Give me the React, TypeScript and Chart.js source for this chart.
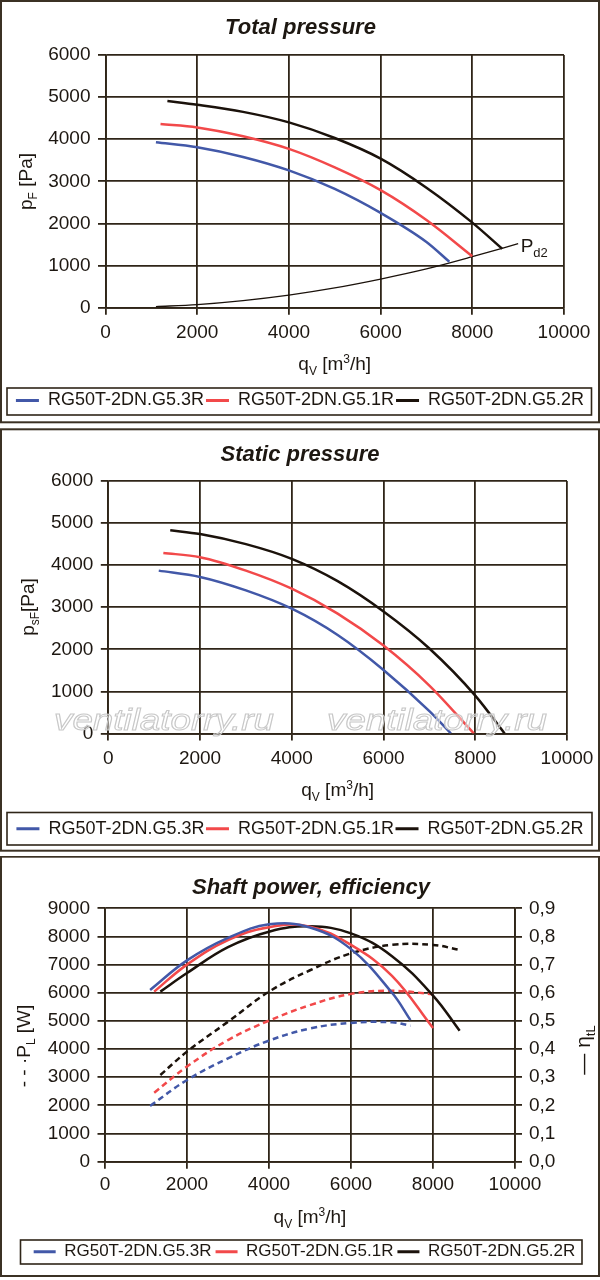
import React, { useEffect, useRef } from "react";
import { Chart, registerables, ChartConfiguration } from "chart.js";

Chart.register(...registerables);

const FONT = "'Liberation Sans', Arial, Helvetica, sans-serif";
const INK = "#1d1711";
const GRID = "#2f2518";
const FRAME = "#3b3124";
const BLUE = "#4258a8";
const RED = "#f2494a";
const BLACK = "#1b120b";

const seriesNames = ["RG50T-2DN.G5.3R", "RG50T-2DN.G5.1R", "RG50T-2DN.G5.2R"];

// Total pressure [Pa]
const qTot53 = [1100, 2000, 3000, 4000, 5000, 6000, 7000, 7500];
const pTot53 = [3930, 3810, 3580, 3260, 2820, 2250, 1560, 1090];
const qTot51 = [1200, 2000, 3000, 4000, 5000, 6000, 7000, 8000];
const pTot51 = [4360, 4280, 4070, 3770, 3330, 2790, 2080, 1220];
const qTot52 = [1350, 2000, 3000, 4000, 5000, 6000, 7000, 8000, 8650];
const pTot52 = [4910, 4820, 4650, 4400, 4030, 3540, 2850, 2020, 1400];
const qPd2 = [1100, 2000, 3000, 4000, 5000, 6000, 7000, 8000, 9000];
const pPd2 = [25, 75, 170, 300, 470, 680, 920, 1210, 1520];

// Static pressure [Pa]
const qSt53 = [1100, 2000, 3000, 4000, 5000, 6000, 7000, 7470];
const pSt53 = [3870, 3720, 3400, 2965, 2340, 1510, 530, 0];
const qSt51 = [1200, 2000, 3000, 4000, 5000, 6000, 7000, 7970];
const pSt51 = [4290, 4190, 3870, 3440, 2850, 2090, 1140, 0];
const qSt52 = [1350, 2000, 3000, 4000, 5000, 6000, 7000, 8000, 8640];
const pSt52 = [4830, 4740, 4500, 4150, 3620, 2900, 2020, 900, 0];

// Shaft power [W] and efficiency
const qSh53 = [1100, 2000, 3000, 4000, 5000, 6000, 7000, 7450];
const power53 = [1980, 2900, 3670, 4300, 4730, 4930, 4950, 4830];
const eff53 = [0.61, 0.715, 0.795, 0.843, 0.832, 0.755, 0.6, 0.503];
const qSh51 = [1200, 2000, 3000, 4000, 5000, 6000, 7000, 8000];
const power51 = [2450, 3380, 4320, 5010, 5560, 5960, 6070, 5950];
const eff51 = [0.604, 0.7, 0.787, 0.833, 0.835, 0.77, 0.66, 0.475];
const qSh52 = [1350, 2000, 3000, 4000, 5000, 6000, 7000, 8000, 8650];
const power52 = [3080, 3910, 4970, 6040, 6800, 7400, 7700, 7700, 7520];
const eff52 = [0.604, 0.67, 0.762, 0.817, 0.836, 0.811, 0.73, 0.59, 0.465];

const WATERMARK = "ventilatorry.ru";

type Run = { t: string; size?: number; dy?: number };

function drawRuns(ctx: CanvasRenderingContext2D, runs: Run[], along: number, base: number, rotated: boolean) {
  ctx.save();
  ctx.fillStyle = INK;
  ctx.textAlign = "left";
  ctx.textBaseline = "alphabetic";
  const widths = runs.map((r) => {
    ctx.font = `${r.size ?? 19}px ${FONT}`;
    return ctx.measureText(r.t).width;
  });
  const total = widths.reduce((a, b) => a + b, 0);
  if (rotated) {
    ctx.translate(base, along);
    ctx.rotate(-Math.PI / 2);
  } else {
    ctx.translate(along, base);
  }
  let x = -total / 2;
  runs.forEach((r, i) => {
    ctx.font = `${r.size ?? 19}px ${FONT}`;
    ctx.fillText(r.t, x, r.dy ?? 0);
    x += widths[i];
  });
  ctx.restore();
}

const X_TITLE: Run[] = [
  { t: "q" },
  { t: "V", size: 12, dy: 5 },
  { t: " [m" },
  { t: "3", size: 12, dy: -7 },
  { t: "/h]" },
];

type Geo = {
  top: number;
  height: number;
  border: [number, number];
  plot: { l: number; r: number; t: number; b: number };
  padLeft: number;
  title: string;
  titleX: number;
  titleBase: number;
  xLabelCenter: number;
  xTitleBase: number;
  yTitle: Run[];
  yTitleBase: number;
  yTitleMid: number;
  legend: { fs: number; pad: number; center: number; boxW: number; box: [number, number, number, number] };
};

const geoTotal: Geo = {
  top: 0,
  height: 424,
  border: [1, 422.3],
  plot: { l: 105.5, r: 564, t: 55, b: 307.7 },
  padLeft: 0,
  title: "Total pressure",
  titleX: 300.5,
  titleBase: 33.7,
  xLabelCenter: 332.5,
  xTitleBase: 370,
  yTitle: [{ t: "p" }, { t: "F", size: 12, dy: 5 }, { t: " [Pa]" }],
  yTitleBase: 32,
  yTitleMid: 181.5,
  legend: { fs: 18, pad: 2, center: 400.5, boxW: 23, box: [7, 591.5, 388, 415] },
};

const geoStatic: Geo = {
  top: 428,
  height: 424,
  border: [429.3, 850.7],
  plot: { l: 108.3, r: 567, t: 481, b: 733.5 },
  padLeft: 0,
  title: "Static pressure",
  titleX: 300,
  titleBase: 460.5,
  xLabelCenter: 758.3,
  xTitleBase: 796,
  yTitle: [{ t: "p" }, { t: "sF", size: 12, dy: 5 }, { t: "[Pa]" }],
  yTitleBase: 34,
  yTitleMid: 607,
  legend: { fs: 18, pad: 1.5, center: 828.8, boxW: 23, box: [7, 592, 812.5, 845] },
};

const geoShaft: Geo = {
  top: 856,
  height: 422,
  border: [856.7, 1276],
  plot: { l: 105, r: 515, t: 908.3, b: 1161.7 },
  padLeft: 9,
  title: "Shaft power, efficiency",
  titleX: 311,
  titleBase: 893.5,
  xLabelCenter: 1185,
  xTitleBase: 1222.7,
  yTitle: [{ t: "- - ·P" }, { t: "L", size: 12, dy: 5 }, { t: " [W]" }],
  yTitleBase: 29.5,
  yTitleMid: 1046,
  legend: { fs: 17, pad: 4, center: 1251.7, boxW: 22, box: [20.5, 582, 1240, 1264] },
};

const pts = (xs: number[], ys: number[]) => xs.map((x, i) => ({ x, y: ys[i] }));

const line = (label: string, xs: number[], ys: number[], color: string, extra: any = {}) => ({
  label,
  data: pts(xs, ys),
  borderColor: color,
  backgroundColor: color,
  borderWidth: 2.5,
  pointRadius: 0,
  tension: 0.4,
  fill: false,
  ...extra,
});

// pressure curves fall monotonically, keep them free of wiggles
const mono = { cubicInterpolationMode: "monotone" };

const tickFont = { family: FONT, size: 19 };

function baseOptions(g: Geo, yMax: number, yStep: number, rightScale: any): any {
  const legendH = g.legend.fs + g.legend.pad + 10;
  const legendTop = g.legend.center - g.legend.pad - g.legend.fs / 2 - g.top;
  const plotBottom = g.plot.b - g.top;
  return {
    responsive: true,
    maintainAspectRatio: false,
    animation: false,
    events: [],
    layout: {
      padding: { top: g.plot.t - g.top, left: g.padLeft, right: 0, bottom: g.height - legendTop - legendH },
    },
    plugins: {
      title: { display: false },
      tooltip: { enabled: false },
      legend: {
        position: "bottom",
        labels: {
          font: { family: FONT, size: g.legend.fs },
          color: INK,
          boxWidth: g.legend.boxW,
          boxHeight: 3,
          padding: g.legend.pad,
          generateLabels: (chart: any) =>
            chart.data.datasets
              .map((ds: any, i: number) => ({
                text: ds.label,
                fillStyle: ds.borderColor,
                strokeStyle: ds.borderColor,
                lineWidth: 0,
                hidden: false,
                datasetIndex: i,
                fontColor: INK,
                noLegend: ds.noLegend,
              }))
              .filter((it: any) => !it.noLegend),
        },
      },
    },
    scales: {
      x: {
        type: "linear",
        min: 0,
        max: 10000,
        ticks: {
          stepSize: 2000,
          font: tickFont,
          color: INK,
          padding: g.xLabelCenter - g.plot.b - 7 - (19 * 1.2) / 2,
          maxRotation: 0,
          callback: (v: any) => String(v),
        },
        grid: { color: GRID, lineWidth: 1.8, tickLength: 7 },
        border: { color: GRID, width: 1.8 },
        afterFit: (s: any) => {
          s.height = legendTop - plotBottom;
        },
      },
      y: {
        type: "linear",
        position: "left",
        min: 0,
        max: yMax,
        ticks: {
          stepSize: yStep,
          font: tickFont,
          color: INK,
          padding: 7.5,
          callback: (v: any) => String(v),
        },
        grid: { color: GRID, lineWidth: 1.8, tickLength: 7.5 },
        border: { color: GRID, width: 1.8 },
        afterFit: (s: any) => {
          s.width = g.plot.l - g.padLeft;
        },
      },
      ...rightScale,
    },
  };
}

function spacer(g: Geo) {
  return {
    spacer: {
      type: "linear",
      position: "right",
      display: true,
      grid: { display: false },
      ticks: { display: false },
      border: { display: false },
      afterFit: (s: any) => {
        s.width = 600 - g.plot.r;
      },
    },
  };
}

function decor(g: Geo, after?: (chart: any) => void, overData?: (chart: any) => void) {
  return {
    id: "decor",
    afterDatasetsDraw(chart: any) {
      if (overData) overData(chart);
    },
    afterDraw(chart: any) {
      const ctx: CanvasRenderingContext2D = chart.ctx;
      ctx.save();
      ctx.strokeStyle = FRAME;
      ctx.lineWidth = 2;
      ctx.strokeRect(1, g.border[0] - g.top, 598, g.border[1] - g.border[0]);
      const [x1, x2, y1, y2] = g.legend.box;
      ctx.strokeStyle = GRID;
      ctx.lineWidth = 1.6;
      ctx.strokeRect(x1, y1 - g.top, x2 - x1, y2 - y1);
      ctx.font = `italic bold 22px ${FONT}`;
      ctx.fillStyle = INK;
      ctx.textAlign = "center";
      ctx.textBaseline = "alphabetic";
      ctx.fillText(g.title, g.titleX, g.titleBase - g.top);
      ctx.restore();
      const { left, right } = chart.chartArea;
      drawRuns(ctx, X_TITLE, (left + right) / 2, g.xTitleBase - g.top, false);
      drawRuns(ctx, g.yTitle, g.yTitleMid - g.top, g.yTitleBase, true);
      if (after) after(chart);
    },
  };
}

function configTotal(): ChartConfiguration {
  const g = geoTotal;
  return {
    type: "line",
    data: {
      datasets: [
        line(seriesNames[0], qTot53, pTot53, BLUE, mono),
        line(seriesNames[1], qTot51, pTot51, RED, mono),
        line(seriesNames[2], qTot52, pTot52, BLACK, mono),
        line("Pd2", qPd2, pPd2, BLACK, { ...mono, borderWidth: 1.3, noLegend: true }),
      ] as any,
    },
    options: baseOptions(g, 6000, 1000, spacer(g)),
    plugins: [
      decor(g, (chart) => {
        const xs = chart.scales.x;
        const ys = chart.scales.y;
        const px = xs.getPixelForValue(qPd2[qPd2.length - 1]);
        const py = ys.getPixelForValue(pPd2[pPd2.length - 1]);
        const ctx: CanvasRenderingContext2D = chart.ctx;
        ctx.save();
        ctx.fillStyle = INK;
        ctx.textBaseline = "alphabetic";
        ctx.textAlign = "left";
        ctx.font = `19px ${FONT}`;
        ctx.fillText("P", px + 2.5, py + 8.5);
        const w = ctx.measureText("P").width;
        ctx.font = `13px ${FONT}`;
        ctx.fillText("d2", px + 2.5 + w, py + 13.5);
        ctx.restore();
      }),
    ] as any,
  };
}

function configStatic(): ChartConfiguration {
  const g = geoStatic;
  return {
    type: "line",
    data: {
      datasets: [
        line(seriesNames[0], qSt53, pSt53, BLUE, mono),
        line(seriesNames[1], qSt51, pSt51, RED, mono),
        line(seriesNames[2], qSt52, pSt52, BLACK, mono),
      ] as any,
    },
    options: baseOptions(g, 6000, 1000, spacer(g)),
    plugins: [
      decor(g, undefined, (chart) => {
        const ctx: CanvasRenderingContext2D = chart.ctx;
        ctx.save();
        ctx.font = `italic 30px ${FONT}`;
        ctx.textAlign = "left";
        ctx.textBaseline = "alphabetic";
        const w = ctx.measureText(WATERMARK).width;
        for (const left of [54, 327]) {
          ctx.save();
          ctx.translate(left, 730 - g.top);
          ctx.scale(220 / w, 1);
          ctx.fillStyle = "rgba(255,255,255,0.45)";
          ctx.fillText(WATERMARK, 0, 0);
          ctx.strokeStyle = "#c8c8c8";
          ctx.lineWidth = 1;
          ctx.strokeText(WATERMARK, 0, 0);
          ctx.restore();
        }
        ctx.restore();
      }),
    ] as any,
  };
}

function configShaft(): ChartConfiguration {
  const g = geoShaft;
  const dash = { borderDash: [6, 4], noLegend: true, yAxisID: "y" };
  const right = {
    y1: {
      type: "linear",
      position: "right",
      min: 0,
      max: 0.9,
      ticks: {
        stepSize: 0.1,
        font: tickFont,
        color: INK,
        padding: 7,
        callback: (v: any) => Number(v).toFixed(1).replace(".", ","),
      },
      grid: { color: GRID, lineWidth: 1.8, tickLength: 7, drawOnChartArea: false },
      border: { color: GRID, width: 1.8 },
      afterFit: (s: any) => {
        s.width = 600 - g.plot.r;
      },
    },
  };
  return {
    type: "line",
    data: {
      datasets: [
        line(seriesNames[0], qSh53, eff53, BLUE, { yAxisID: "y1" }),
        line(seriesNames[1], qSh51, eff51, RED, { yAxisID: "y1" }),
        line(seriesNames[2], qSh52, eff52, BLACK, { yAxisID: "y1" }),
        line("P53", qSh53, power53, BLUE, dash),
        line("P51", qSh51, power51, RED, dash),
        line("P52", qSh52, power52, BLACK, dash),
      ] as any,
    },
    options: baseOptions(g, 9000, 1000, right),
    plugins: [
      decor(g, (chart) => {
        drawRuns(
          chart.ctx,
          [{ t: "— η", size: 21 }, { t: "tL", size: 13, dy: 5 }],
          1050 - g.top,
          590,
          true
        );
      }),
    ] as any,
  };
}

function Panel({ geo, make }: { geo: Geo; make: () => ChartConfiguration }) {
  const ref = useRef<HTMLCanvasElement>(null);
  useEffect(() => {
    let chart: Chart | null = null;
    if (ref.current) {
      chart = new Chart(ref.current, make());
    }
    return () => {
      if (chart) chart.destroy();
    };
  }, [make]);
  return (
    <div style={{ position: "absolute", left: 0, top: geo.top, width: 600, height: geo.height }}>
      <canvas ref={ref} />
    </div>
  );
}

export default function App() {
  return (
    <div style={{ position: "absolute", left: 0, top: 0, width: 600, height: 1280, background: "#ffffff" }}>
      <Panel geo={geoTotal} make={configTotal} />
      <Panel geo={geoStatic} make={configStatic} />
      <Panel geo={geoShaft} make={configShaft} />
    </div>
  );
}
